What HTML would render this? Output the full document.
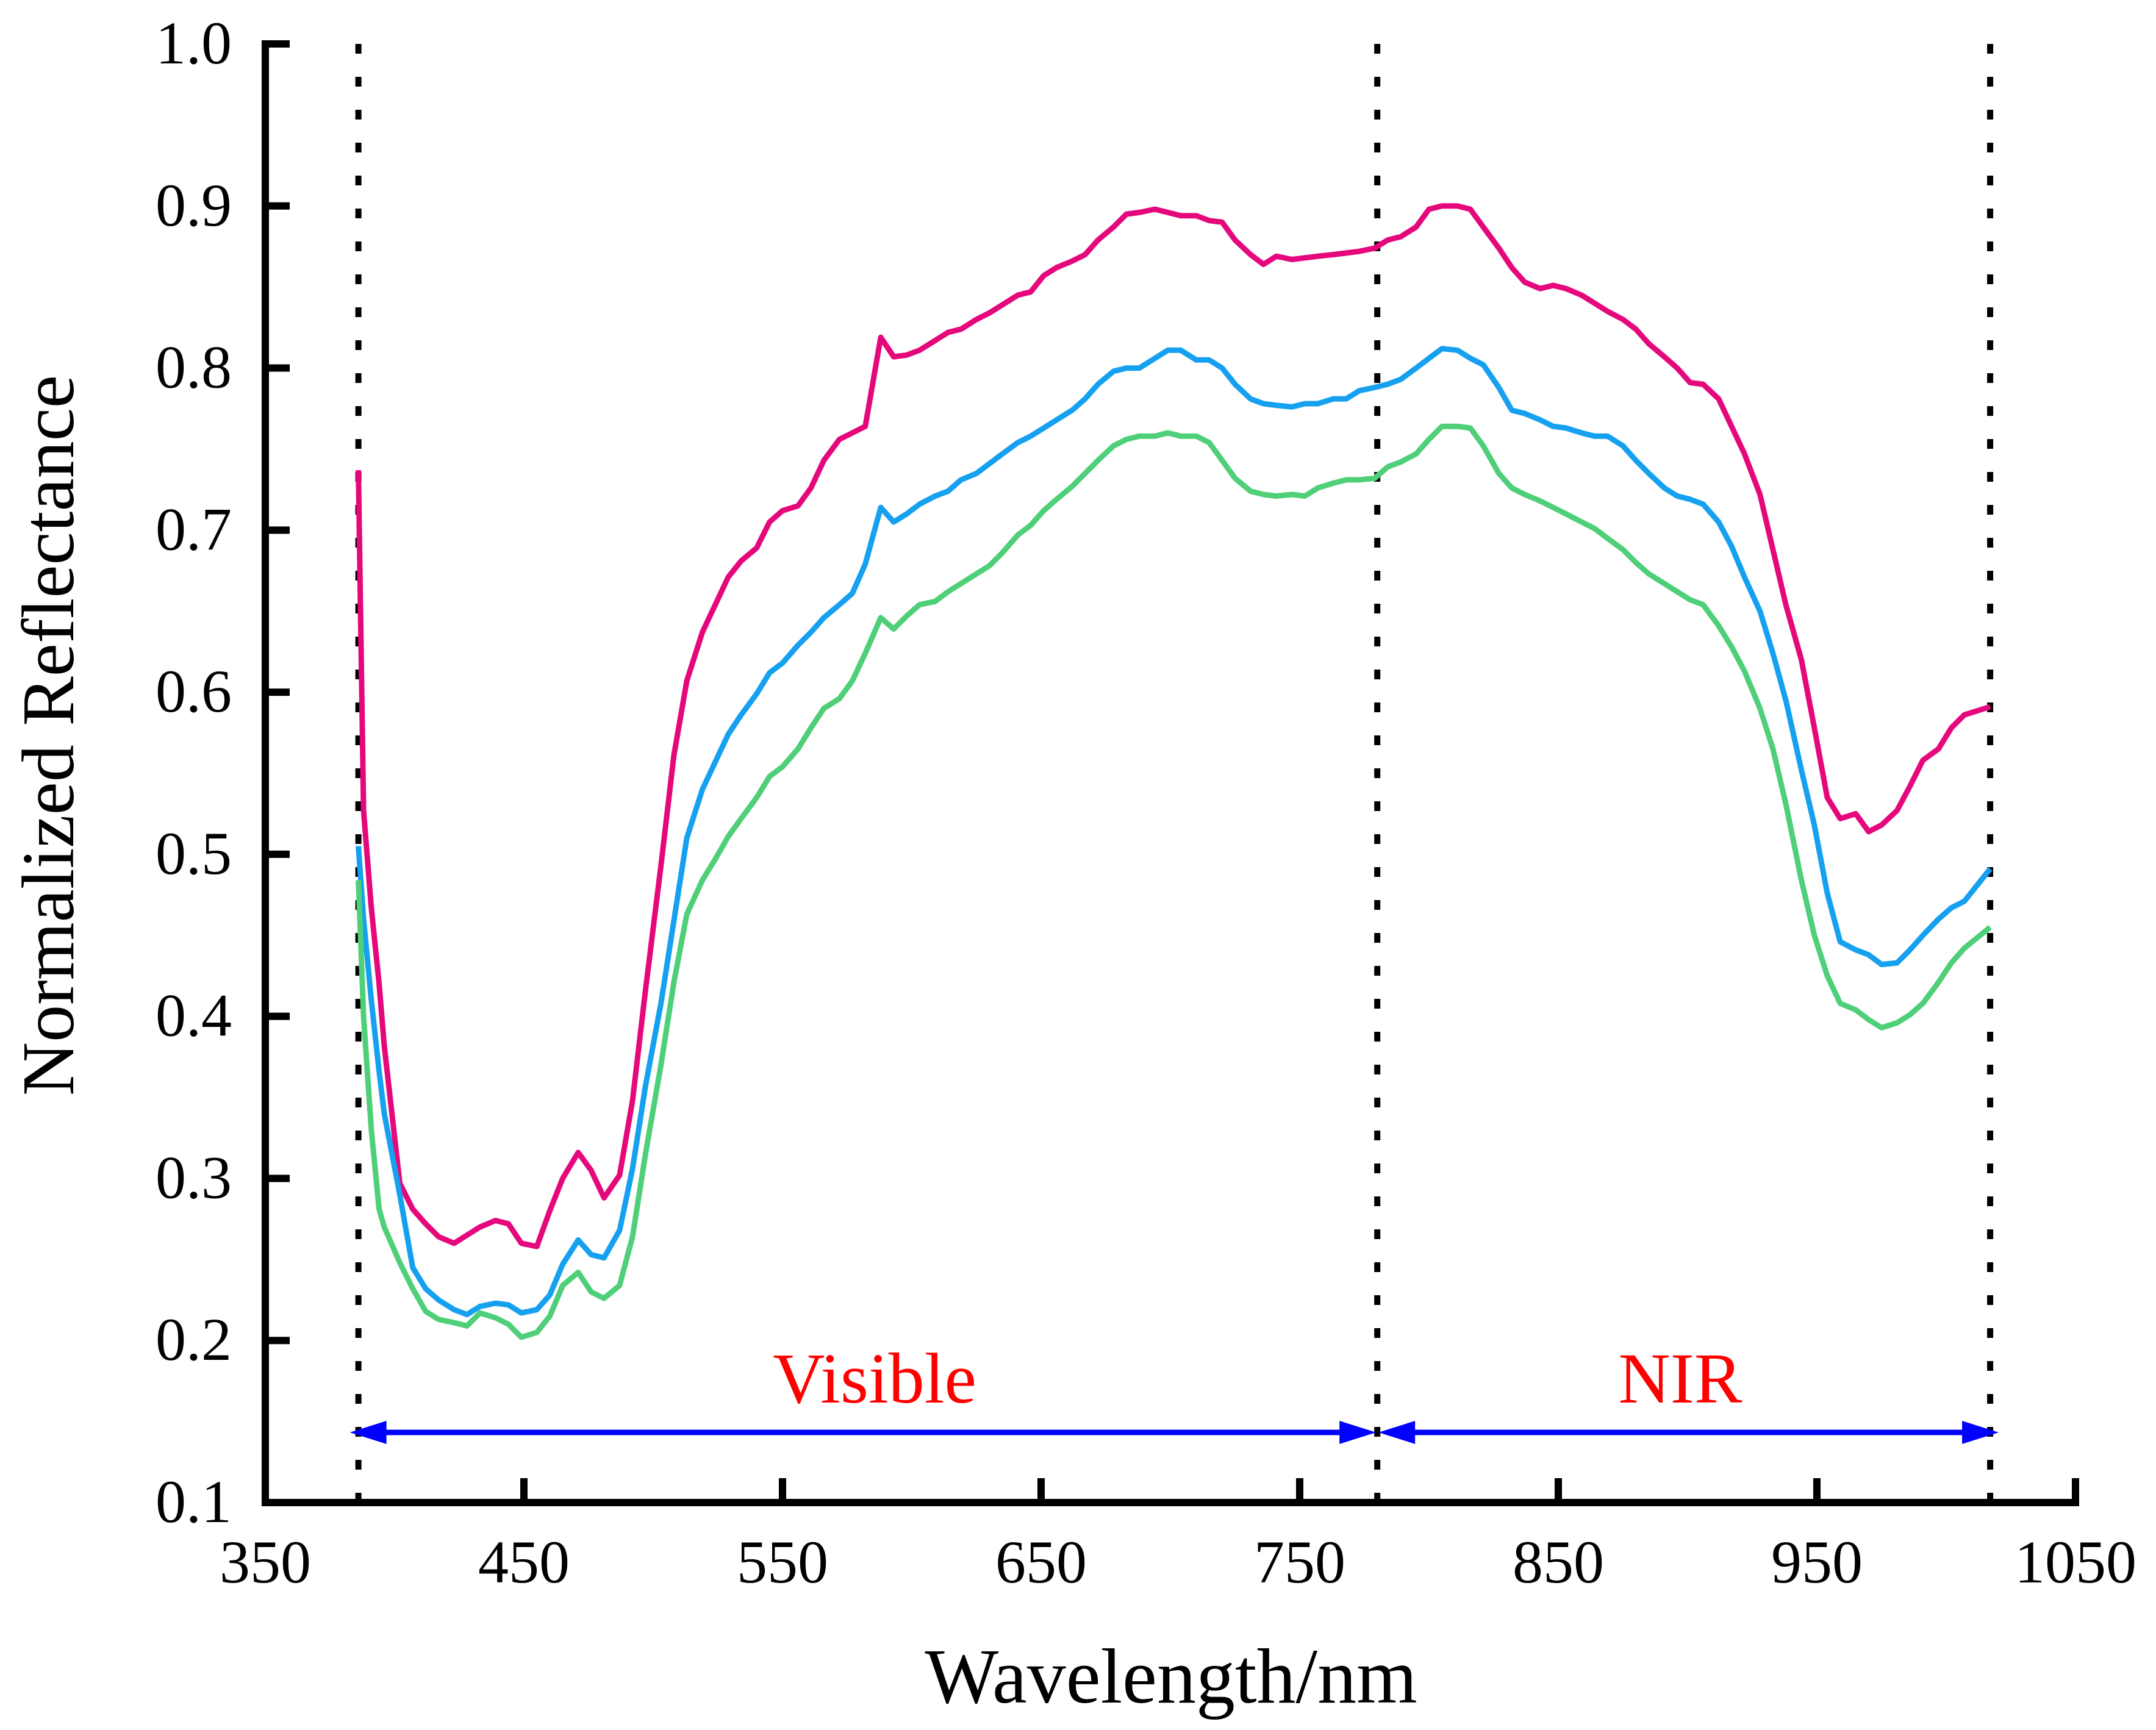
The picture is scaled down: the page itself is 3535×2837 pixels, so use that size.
<!DOCTYPE html>
<html><head><meta charset="utf-8"><style>
html,body{margin:0;padding:0;background:#fff}
svg{display:block}
text{font-family:"Liberation Serif",serif}
</style></head><body>
<svg id="chart" width="3535" height="2837" viewBox="0 0 3535 2837" xmlns="http://www.w3.org/2000/svg">
<g id="marks"></g>
</svg>
<script>
const wavelengths=[386,388,391,394,396,402,407,412,417,423,428,433,439,444,449,455,460,465,471,476,481,487,492,497,503,508,513,519,524,529,534,540,545,550,556,561,566,572,577,582,588,593,598,603,609,614,619,625,630,635,641,646,651,656,662,667,672,678,683,688,694,699,704,710,715,720,725,731,736,741,747,752,757,763,768,773,779,784,789,795,800,805,811,816,821,827,832,837,843,848,853,859,864,869,875,880,885,891,896,901,906,912,917,922,928,933,938,944,949,954,959,965,970,975,981,986,991,997,1002,1007,1017];
const pinkValues=[0.737,0.527,0.467,0.42,0.382,0.297,0.281,0.272,0.264,0.26,0.265,0.27,0.274,0.272,0.26,0.258,0.28,0.30,0.316,0.305,0.288,0.302,0.348,0.416,0.493,0.561,0.607,0.637,0.654,0.671,0.681,0.689,0.705,0.712,0.715,0.726,0.743,0.756,0.76,0.764,0.819,0.807,0.808,0.811,0.817,0.822,0.824,0.830,0.834,0.839,0.845,0.847,0.857,0.862,0.866,0.870,0.879,0.887,0.895,0.896,0.898,0.896,0.894,0.894,0.891,0.890,0.879,0.870,0.864,0.869,0.867,0.868,0.869,0.870,0.871,0.872,0.874,0.879,0.881,0.887,0.898,0.900,0.900,0.898,0.887,0.874,0.862,0.853,0.849,0.851,0.849,0.845,0.840,0.835,0.830,0.824,0.815,0.807,0.800,0.791,0.790,0.781,0.764,0.747,0.722,0.688,0.654,0.620,0.578,0.535,0.522,0.525,0.514,0.518,0.527,0.542,0.558,0.565,0.578,0.586,0.591];
const blueValues=[0.505,0.46,0.41,0.366,0.34,0.29,0.245,0.232,0.225,0.219,0.216,0.221,0.223,0.222,0.217,0.219,0.228,0.247,0.262,0.253,0.251,0.268,0.306,0.357,0.408,0.459,0.510,0.540,0.557,0.574,0.586,0.599,0.612,0.618,0.629,0.637,0.646,0.654,0.661,0.679,0.714,0.705,0.710,0.716,0.721,0.724,0.731,0.735,0.741,0.747,0.754,0.758,0.763,0.768,0.774,0.781,0.790,0.798,0.800,0.800,0.806,0.811,0.811,0.805,0.805,0.800,0.790,0.781,0.778,0.777,0.776,0.778,0.778,0.781,0.781,0.786,0.788,0.790,0.793,0.800,0.806,0.812,0.811,0.806,0.802,0.788,0.774,0.772,0.768,0.764,0.763,0.760,0.758,0.758,0.752,0.743,0.735,0.726,0.721,0.719,0.716,0.705,0.690,0.671,0.650,0.624,0.595,0.552,0.518,0.476,0.446,0.441,0.438,0.432,0.433,0.441,0.450,0.460,0.467,0.471,0.491];
const greenValues=[0.484,0.40,0.33,0.281,0.27,0.248,0.232,0.218,0.213,0.211,0.209,0.217,0.214,0.21,0.202,0.205,0.215,0.234,0.242,0.230,0.226,0.234,0.264,0.315,0.370,0.421,0.463,0.484,0.497,0.511,0.522,0.535,0.548,0.554,0.565,0.578,0.590,0.596,0.607,0.624,0.646,0.639,0.647,0.654,0.656,0.662,0.667,0.673,0.678,0.686,0.697,0.703,0.712,0.719,0.727,0.735,0.743,0.752,0.756,0.758,0.758,0.760,0.758,0.758,0.754,0.743,0.732,0.724,0.722,0.721,0.722,0.721,0.726,0.729,0.731,0.731,0.732,0.739,0.742,0.747,0.756,0.764,0.764,0.763,0.752,0.735,0.726,0.722,0.718,0.714,0.710,0.705,0.701,0.695,0.688,0.680,0.673,0.667,0.662,0.657,0.654,0.641,0.628,0.613,0.590,0.565,0.531,0.484,0.450,0.425,0.408,0.404,0.398,0.393,0.396,0.401,0.408,0.421,0.433,0.442,0.455];
const xTicks=[350,450,550,650,750,850,950,1050];
const yTicks=[0.1,0.2,0.3,0.4,0.5,0.6,0.7,0.8,0.9,1.0];
const yTickLabels=["0.1","0.2","0.3","0.4","0.5","0.6","0.7","0.8","0.9","1.0"];
const regionBounds=[386,780,1017];

const NS="http://www.w3.org/2000/svg";
const g=document.getElementById('marks');
const X=v=>435+(v-350)*4.24;
const Y=v=>2464-(v-0.1)*(2392/0.9);
function mk(tag,attrs,parent){const e=document.createElementNS(NS,tag);for(const k in attrs)e.setAttribute(k,attrs[k]);(parent||g).appendChild(e);return e;}

// region dotted lines
regionBounds.forEach(b=>{
  const l=mk('line',{x1:X(b),x2:X(b),y1:72,y2:2464,stroke:'#000','stroke-width':10,'stroke-dasharray':'16 38'});
  
  
});

// series
[[pinkValues,'#e5087c','series-pink'],[blueValues,'#16a0f0','series-blue'],[greenValues,'#4fcf78','series-green']].forEach(([vals,col,name])=>{
  const d=vals.map((v,i)=>(i?'L':'M')+X(wavelengths[i]).toFixed(1)+','+Y(v).toFixed(1)).join(' ');
  const p=mk('path',{d:d,fill:'none',stroke:col,'stroke-width':9,'stroke-linejoin':'round'});
  
  
});

// axes
const ax=mk('path',{d:`M${X(1050)},${Y(0.1)-40} L${X(1050)},${Y(0.1)} L${X(350)},${Y(0.1)} L${X(350)},${Y(1.0)} L${X(350)+40},${Y(1.0)}`,fill:'none',stroke:'#000','stroke-width':12,'stroke-linejoin':'miter'});


xTicks.forEach(t=>{
  const tk=mk('line',{x1:X(t),x2:X(t),y1:Y(0.1),y2:Y(0.1)-40,stroke:'#000','stroke-width':12});
  
  
  const tx=mk('text',{x:X(t),y:2595,'font-size':100,'text-anchor':'middle',fill:'#000'});
  tx.textContent=String(t);
  
  
});
yTicks.forEach((t,i)=>{
  const tk=mk('line',{x1:X(350),x2:X(350)+40,y1:Y(t),y2:Y(t),stroke:'#000','stroke-width':12});
  
  
  const tx=mk('text',{x:380,y:Y(t)+32,'font-size':100,'text-anchor':'end',fill:'#000'});
  tx.textContent=yTickLabels[i];
  
  
});

// arrows
const ay=2349;
const arr=mk('g',{});


mk('line',{x1:X(386)+30,x2:X(780)-30,y1:ay,y2:ay,stroke:'#0000ff','stroke-width':9},arr);
mk('line',{x1:X(780)+30,x2:X(1017)-30,y1:ay,y2:ay,stroke:'#0000ff','stroke-width':9},arr);
const head=(tip,dir)=>mk('polygon',{points:`${tip},${ay} ${tip+dir*60},${ay-19} ${tip+dir*60},${ay+19}`,fill:'#0000ff'},arr);
head(X(386)-14,1);head(X(780)-2,-1);head(X(780)+2,1);head(X(1017)+14,-1);

const vis=mk('text',{x:1434,y:2300,'font-size':118,'text-anchor':'middle',fill:'#ff0000'});
vis.textContent='Visible';


const nir=mk('text',{x:2755,y:2300,'font-size':118,'text-anchor':'middle',fill:'#ff0000'});
nir.textContent='NIR';



const xt=mk('text',{x:1920,y:2792,'font-size':128,'text-anchor':'middle',fill:'#000'});
xt.textContent='Wavelength/nm';


const yt=mk('text',{x:0,y:0,'font-size':122,'text-anchor':'middle',fill:'#000',transform:'translate(120,1206) rotate(-90)'});
yt.textContent='Normalized Reflectance';


</script>
</body></html>
